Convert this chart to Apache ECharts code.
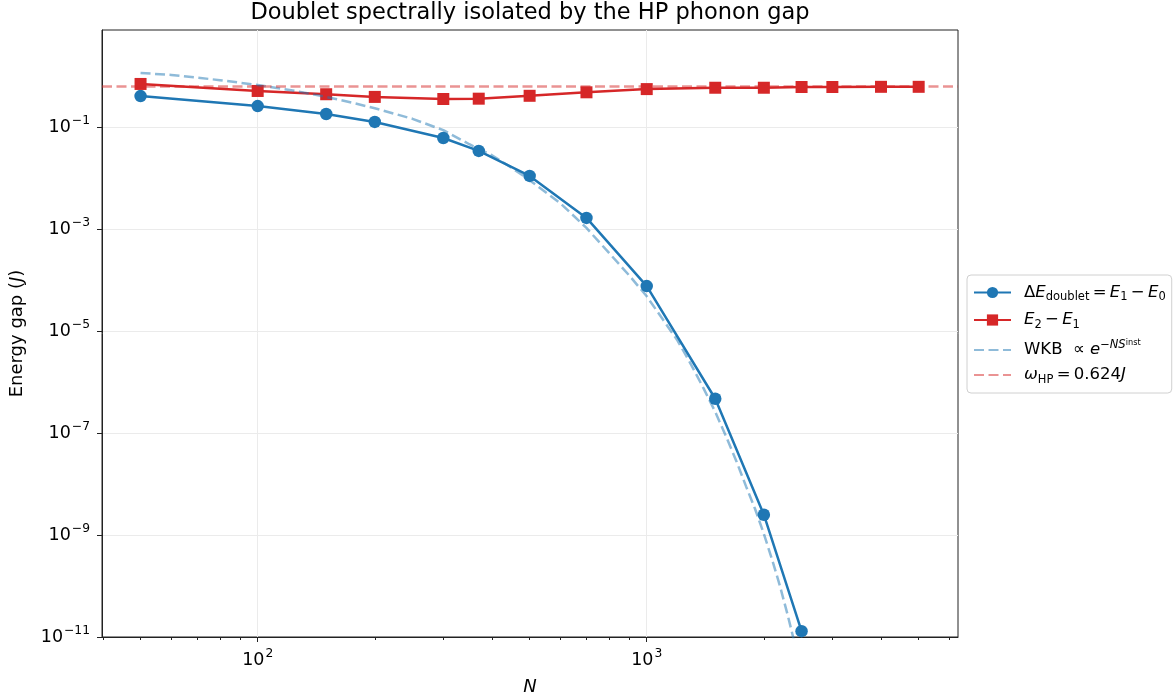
<!DOCTYPE html>
<html>
<head>
<meta charset="utf-8">
<script src="https://cdn.jsdelivr.net/npm/echarts@6/dist/echarts.min.js"></script>
<style>html,body{margin:0;padding:0;background:#fff}#c{width:1175px;height:698px}</style>
</head>
<body>
<div id="c"></div>
<script>
// ---- data ----
const doubletN   = [50, 100, 150, 200, 300, 370, 500, 700, 1000, 1500, 2000, 2500];
const doubletGap = [0.405, 0.258, 0.18, 0.126, 0.061, 0.034, 0.011, 0.00165, 7.6e-5, 4.7e-7, 2.5e-9, 1.3e-11];

const excitedN   = [50, 100, 150, 200, 300, 370, 500, 700, 1000, 1500, 2000, 2500, 3000, 4000, 5000];
const excitedGap = [0.70, 0.51, 0.44, 0.39, 0.355, 0.36, 0.41, 0.48, 0.555, 0.59, 0.59, 0.61, 0.61, 0.615, 0.615];

const wkbN   = [50, 60, 70, 80, 90, 100, 125, 150, 175, 200, 250, 300, 350, 400, 450, 500, 600, 700, 800, 900, 1000, 1200, 1300, 1400, 1500, 1600, 1700, 1800, 1900, 2000, 2100, 2200, 2300, 2400];
const wkbGap = [1.15, 1.05, 0.93, 0.83, 0.74, 0.67, 0.51, 0.39, 0.30, 0.234, 0.145, 0.087, 0.046, 0.028, 0.0158, 0.0091, 0.0032, 0.00105, 3.4e-4, 1.25e-4, 4.8e-5, 6.5e-6, 2.2e-6, 7.5e-7, 2.6e-7, 8.5e-8, 2.8e-8, 9.0e-9, 3.2e-9, 1.05e-9, 3.3e-10, 1.0e-10, 2.8e-11, 7.5e-12];

const omegaHP = 0.624;

const xMajorTicks = [100, 1000];
const xMinorTicks = [40, 50, 60, 70, 80, 90, 200, 300, 400, 500, 600, 700, 800, 900, 2000, 3000, 4000, 5000, 6000];
const yMajorTicks = [1e-11, 1e-9, 1e-7, 1e-5, 1e-3, 1e-1];

const xRange = [39.8, 6310];
const yRange = [1e-11, 8];

// ---- chart ----
const FONT = 'DejaVu Sans';
const chart = echarts.init(document.getElementById('c'), null, {renderer: 'canvas'});

function pow10Label(v) {
  const e = Math.round(Math.log10(v));
  const s = (e < 0 ? '\u2212' : '') + Math.abs(e);
  return '{b|10}{s|' + s + '}';
}
const tickRich = {
  b: {fontFamily: FONT, fontSize: 17.5, color: '#000', lineHeight: 24},
  s: {fontFamily: FONT, fontSize: 12.3, color: '#000', lineHeight: 12, verticalAlign: 'top', padding: [0, 0, 0, 1]}
};

const LF = 16.5, LS = 11.5;
const legendRich = {
  r:  {fontFamily: FONT, fontSize: LF, color: '#000', lineHeight: 22},
  i:  {fontFamily: FONT, fontSize: LF, fontStyle: 'italic', color: '#000', lineHeight: 22},
  sub:{fontFamily: FONT, fontSize: LS, color: '#000', lineHeight: 10, verticalAlign: 'bottom'},
  sup:{fontFamily: FONT, fontSize: LS, color: '#000', lineHeight: 10, verticalAlign: 'top'},
  supi:{fontFamily: FONT, fontSize: LS, fontStyle: 'italic', color: '#000', lineHeight: 10, verticalAlign: 'top'},
  supsub:{fontFamily: FONT, fontSize: 8.2, color: '#000', lineHeight: 17, verticalAlign: 'top'}
};
const TS = '\u2009';
const legendText = {
  'doublet': '{r|\u0394}{i|E}{sub|doublet}{r|' + TS + '=' + TS + '}{i|E}{sub|1}{r|' + TS + '\u2212' + TS + '}{i|E}{sub|0}',
  'excited': '{i|E}{sub|2}{r|' + TS + '\u2212' + TS + '}{i|E}{sub|1}',
  'wkb': '{r|WKB  \u221D }{i|e}{sup|\u2212}{supi|NS}{supsub|inst}',
  'omega': '{i|\u03C9}{sub|HP}{r|' + TS + '=' + TS + '0.624}{i|J}'
};

const axisColor = '#222';
const gridColor = '#ebebeb';
const dash = [10, 4.5];

const option = {
  animation: false,
  backgroundColor: '#fff',
  title: {
    text: 'Doublet spectrally isolated by the HP phonon gap',
    left: 530, top: 0, textAlign: 'center', padding: 0,
    textStyle: {fontFamily: FONT, fontSize: 22.5, lineHeight: 26, fontWeight: 'normal', color: '#000'}
  },
  grid: {left: 102, right: 217, top: 30, bottom: 61, outerBoundsMode: 'none', containLabel: false,
         show: true, borderColor: axisColor, borderWidth: 1, backgroundColor: 'transparent'},
  legend: {
    orient: 'vertical', left: 967, top: 275,
    itemWidth: 37, itemHeight: 14, itemGap: 8,
    padding: [9, 6, 7, 6],
    borderColor: '#d0d0d0', borderWidth: 1, borderRadius: 4, backgroundColor: '#fff',
    data: [
      {name: 'doublet'},
      {name: 'excited'},
      {name: 'wkb', itemStyle: {opacity: 0}},
      {name: 'omega', itemStyle: {opacity: 0}}
    ],
    formatter: n => legendText[n],
    textStyle: {rich: legendRich, padding: [0, 0, 0, 8]}
  },
  xAxis: [{
    type: 'log', logBase: 10, min: xRange[0], max: xRange[1],
    name: 'N', nameLocation: 'middle', nameGap: 41,
    nameTextStyle: {fontFamily: FONT, fontSize: 18, fontStyle: 'italic', color: '#000'},
    axisLine: {show: true, onZero: false, lineStyle: {color: axisColor, width: 1}},
    axisTick: {show: true, length: 5, customValues: xMajorTicks, lineStyle: {color: axisColor, width: 1}},
    axisLabel: {show: true, customValues: xMajorTicks, margin: 11, formatter: pow10Label, rich: tickRich},
    splitLine: {show: true, lineStyle: {color: gridColor, width: 1}},
    minorTick: {show: false}, minorSplitLine: {show: false}
  }, {
    type: 'log', logBase: 10, min: xRange[0], max: xRange[1], position: 'bottom',
    axisLine: {show: false},
    axisTick: {show: true, length: 3, customValues: xMinorTicks, lineStyle: {color: axisColor, width: 1}},
    axisLabel: {show: false},
    splitLine: {show: false}
  }],
  yAxis: {
    type: 'log', logBase: 10, min: yRange[0], max: yRange[1],
    name: '{r|Energy gap (}{i|J}{r|)}', nameLocation: 'middle', nameGap: 76, nameRotate: 90,
    nameTextStyle: {rich: {
      r: {fontFamily: FONT, fontSize: 18, color: '#000'},
      i: {fontFamily: FONT, fontSize: 18, fontStyle: 'italic', color: '#000'}
    }},
    axisLine: {show: true, onZero: false, lineStyle: {color: axisColor, width: 1}},
    axisTick: {show: true, length: 5, customValues: yMajorTicks, lineStyle: {color: axisColor, width: 1}},
    axisLabel: {show: true, customValues: yMajorTicks, margin: 12, formatter: pow10Label, rich: tickRich},
    splitLine: {show: true, lineStyle: {color: gridColor, width: 1}},
    minorTick: {show: false}
  },
  series: [{
    name: 'doublet', type: 'line', xAxisIndex: 0,
    data: doubletN.map((n, i) => [n, doubletGap[i]]),
    symbol: 'circle', symbolSize: 12.5,
    lineStyle: {color: '#1f77b4', width: 2.5},
    itemStyle: {color: '#1f77b4'},
    z: 2
  }, {
    name: 'excited', type: 'line', xAxisIndex: 0,
    data: excitedN.map((n, i) => [n, excitedGap[i]]),
    symbol: 'rect', symbolSize: 12,
    lineStyle: {color: '#d62728', width: 2.5},
    itemStyle: {color: '#d62728'},
    z: 3
  }, {
    name: 'wkb', type: 'line', xAxisIndex: 0,
    data: wkbN.map((n, i) => [n, wkbGap[i]]),
    symbol: 'none', showSymbol: false,
    lineStyle: {color: 'rgba(31,119,180,0.5)', width: 2.5, type: dash},
    itemStyle: {color: 'rgba(31,119,180,0.5)'},
    z: 4
  }, {
    name: 'omega', type: 'line', xAxisIndex: 0,
    data: [],
    symbol: 'none', showSymbol: false,
    lineStyle: {color: 'rgba(214,39,40,0.5)', width: 2.5, type: dash},
    itemStyle: {color: 'rgba(214,39,40,0.5)'},
    markLine: {
      silent: true, symbol: 'none', label: {show: false},
      lineStyle: {color: 'rgba(214,39,40,0.5)', width: 2.5, type: dash},
      data: [{yAxis: omegaHP}]
    },
    z: 5
  }]
};
chart.setOption(option);
</script>
</body>
</html>
